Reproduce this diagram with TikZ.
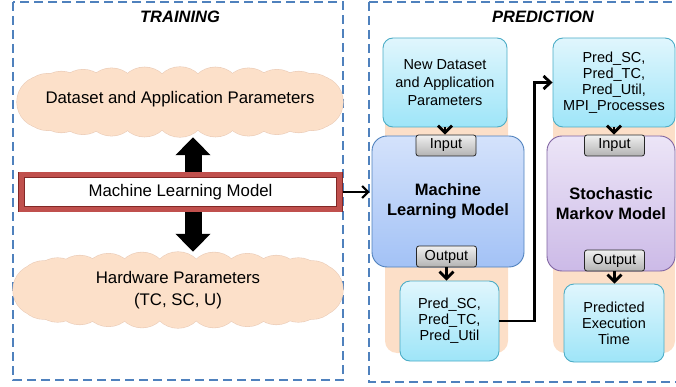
\documentclass[tikz,border=0pt]{standalone}
\usepackage{fontspec}
\setmainfont{Liberation Sans}
\usepackage{tikz}
\usetikzlibrary{arrows.meta,calc}

\definecolor{frameblue}{RGB}{79,129,189}
\definecolor{cloudfill}{RGB}{252,224,201}
\definecolor{cloudedge}{RGB}{235,205,185}
\definecolor{colfill}{RGB}{252,223,200}
\definecolor{mlred}{RGB}{192,80,77}
\definecolor{mldark}{RGB}{130,40,38}
\definecolor{cyantop}{RGB}{224,246,253}
\definecolor{cyanbot}{RGB}{158,229,248}
\definecolor{cyanedge}{RGB}{75,172,198}
\definecolor{bluetop}{RGB}{212,226,251}
\definecolor{bluebot}{RGB}{163,194,246}
\definecolor{purptop}{RGB}{236,229,247}
\definecolor{purpbot}{RGB}{204,186,231}
\definecolor{purpedge}{RGB}{128,100,162}

% puffs round an ellipse: (centre)(x radius:y radius:puff radius)
\def\puffcloud(#1)(#2:#3:#4){%
	\foreach \a in {0,15,...,345}
		\draw[cloudedge,line width=1.2pt] ($(#1)+({#2*cos(\a)},{#3*sin(\a)})$) circle (#4);
	\foreach \a in {0,15,...,345}
		\fill[cloudfill] ($(#1)+({#2*cos(\a)},{#3*sin(\a)})$) circle (#4);
	\fill[cloudfill] (#1) ellipse ({#2} and {#3});}

\begin{document}
\begin{tikzpicture}[x=1pt,y=-1pt,
	frame/.style={draw=frameblue,line width=2pt,dash pattern=on 9pt off 5pt},
	title/.style={font=\fontsize{16.5}{19}\selectfont\bfseries\itshape},
	cloudspot/.style={inner sep=0pt},
	cloudtext/.style={inner sep=0pt,align=center,font=\fontsize{16.8}{19}\selectfont},
	mlbox/.style={draw=mldark,double=mlred,double distance=5pt,line width=0.8pt,fill=white,
		minimum width=318pt,minimum height=34pt,inner sep=0pt,font=\fontsize{16.8}{19}\selectfont},
	databox/.style={draw=cyanedge,line width=0.9pt,rounded corners=10pt,
		top color=cyantop,bottom color=cyanbot,inner sep=0pt,align=center,
		font=\fontsize{14.5}{16}\selectfont},
	modelbox/.style={line width=0.9pt,rounded corners=15pt,inner sep=0pt,align=center,
		font=\fontsize{16.5}{20}\selectfont\bfseries},
	portbox/.style={draw=black!85,line width=0.8pt,rounded corners=2.5pt,
		top color=black!6,bottom color=black!30,minimum width=60pt,minimum height=21pt,
		inner sep=0pt,font=\fontsize{14.5}{16}\selectfont},
	fatarrow/.style={line width=17pt,-{Triangle[length=18pt,width=34pt]}},
	thinarrow/.style={line width=2pt,-{Straight Barb[length=6pt,width=12pt]}},
	portarrow/.style={line width=2.8pt,-{Straight Barb[length=7pt,width=14pt]}},
	flowarrow/.style={line width=2.8pt,line join=miter,-{Straight Barb[length=7pt,width=13pt]}}]
	%%%%% START %%%%%
	\useasboundingbox (0,0) rectangle (676,387);
	
	% the two dashed frames
	\draw[frame] (13,2) rectangle (343,380);
	\draw[frame] (369,2) -- (369,382) -- (700,382);
	\draw[frame] (369,2) -- (700,2);
	
	\node[title] (traintitle) at (180,17) {TRAINING};
	\node[title] (predtitle) at (543,17) {PREDICTION};
	
	% training side: the two clouds
	\node[cloudspot,minimum width=326pt,minimum height=70pt] (dataparam) at (180,102) {};
	\puffcloud(dataparam)(137:9:26)
	\node[cloudtext] (datatext) at ([yshift=3pt]dataparam) {Dataset and Application Parameters};
	
	\node[cloudspot,minimum width=330pt,minimum height=76pt] (hwparam) at (178,290) {};
	\puffcloud(hwparam)(139:12:26)
	\node[cloudtext] (hwtext) at (hwparam) {Hardware Parameters\\[3pt](TC, SC, U)};
	
	\coordinate (trainpos) at (180.5,192);
	\draw[fatarrow] ([xshift=12.5pt]trainpos) -- ([xshift=12.5pt]trainpos |- dataparam.south);
	\draw[fatarrow] ([xshift=12.5pt]trainpos) -- ([xshift=12.5pt]trainpos |- hwparam.north);
	
	% prediction side, column backgrounds first
	\fill[colfill,rounded corners=12pt] (385,100) rectangle (508,353);
	\fill[colfill,rounded corners=12pt] (553,100) rectangle (675,353);
	
	\node[databox,minimum width=124pt,minimum height=89pt,font=\fontsize{14.5}{18}\selectfont] (newdata) at (445,82.5)
		{New Dataset\\and Application\\Parameters};
	\node[databox,minimum width=122pt,minimum height=89pt] (predsm) at (614,82.5)
		{Pred\_SC,\\Pred\_TC,\\Pred\_Util,\\MPI\_Processes};
	
	\node[modelbox,draw=frameblue,top color=bluetop,bottom color=bluebot,
		minimum width=152pt,minimum height=131pt] (ml) at (448,201.5) {Machine\\Learning Model};
	\node[modelbox,draw=purpedge,top color=purptop,bottom color=purpbot,
		minimum width=128pt,minimum height=135pt] (sm) at (611,203.5) {Stochastic\\Markov Model};
	
	\node[portbox] (mlin) at (446,145.5) {Input};
	\node[portbox] (mlout) at (446.5,256.5) {Output};
	\node[portbox] (smin) at (614.5,145.5) {Input};
	\node[portbox] (smout) at (614.5,260.5) {Output};
	
	\node[databox,minimum width=99pt,minimum height=80pt] (predml) at (449.5,321)
		{Pred\_SC,\\Pred\_TC,\\Pred\_Util};
	\node[databox,minimum width=100pt,minimum height=78pt] (predtime) at (614,323)
		{Predicted\\Execution\\Time};
	
	% connectors
	\draw[thinarrow] (trainpos) -- ([xshift=-2pt]trainpos -| ml.west);
	\node[mlbox] (train) at (trainpos) {Machine Learning Model};
	
	\draw[portarrow] (newdata.south) -- (newdata.south |- mlin.north);
	\draw[portarrow] (mlout.south) -- (mlout.south |- predml.north);
	\draw[portarrow] (predsm.south) -- (predsm.south |- smin.north);
	\draw[portarrow] (smout.south) -- (smout.south |- predtime.north);
	\draw[flowarrow] (predml.east) -- ++(35,0) |- (predsm.west);
	
	%%%%% END %%%%%
\end{tikzpicture}
\end{document}
